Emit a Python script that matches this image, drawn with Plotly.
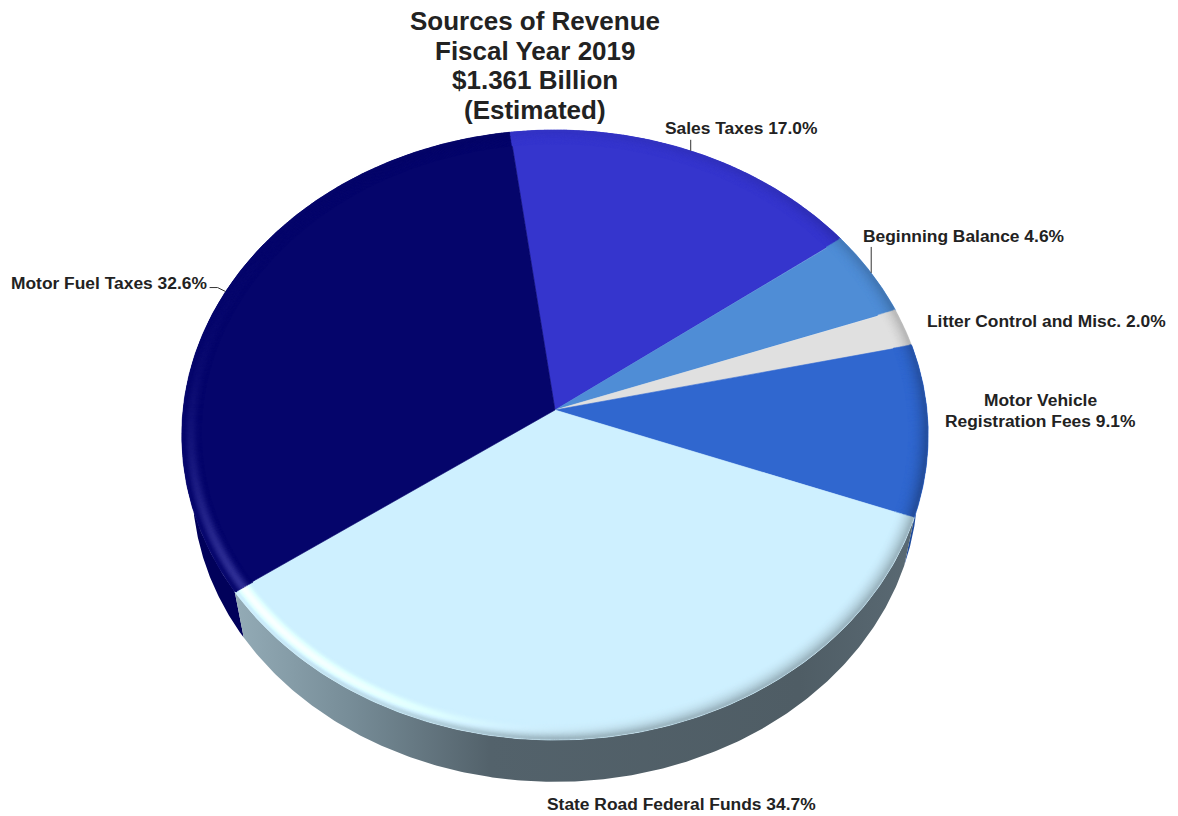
import math
import numpy as np
import plotly.graph_objects as go

# Revenue sources, clockwise from the back of the pie
categories = ["Sales Taxes", "Beginning Balance", "Litter Control and Misc.",
              "Motor Vehicle Registration Fees", "State Road Federal Funds", "Motor Fuel Taxes"]
shares = [17.0, 4.6, 2.0, 9.1, 34.7, 32.6]
title_lines = ["Sources of Revenue", "Fiscal Year 2019", "$1.361 Billion", "(Estimated)"]

slice_colors = ["#3535cd", "#4f8dd6", "#e0e0e0", "#3067cf", "#cef0ff", "#05056b"]
TEXT = "#222222"
FONT = "Liberation Sans"

# Perspective pie geometry, in pixel-sized axis units
CX, CY = 555.0, 410.0
RX, RY = 372.0, 303.0
PERSP = 0.082
START = -7.5
# Bottom plane of the disc
BOTTOM_CY, BOTTOM_SCALE = 461.0, 0.972


def top_xy(theta, r=1.0):
    t = np.radians(theta)
    X, Y = r * np.sin(t), r * np.cos(t)
    w = 1 + PERSP * Y
    return CX + RX * X / w, CY - RY * Y / w


def bottom_xy(theta):
    x, y = top_xy(theta)
    return CX + BOTTOM_SCALE * (x - CX), BOTTOM_CY + BOTTOM_SCALE * (y - CY)


def rgb(hex_color):
    return np.array([int(hex_color[i:i + 2], 16) for i in (1, 3, 5)], dtype=float)


edges = START + np.concatenate([[0], np.cumsum(shares)]) * 3.6
mids = (edges[:-1] + edges[1:]) / 2

fig = go.Figure()


def add_wall(a, b, **style):
    th = np.linspace(a, b, 240)
    xt, yt = top_xy(th)
    xb, yb = bottom_xy(th)
    fig.add_trace(go.Scatter(x=np.r_[xt, xb[::-1]], y=np.r_[yt, yb[::-1]], mode="lines",
                             fill="toself", line=dict(width=0), hoverinfo="skip", **style))


# Side walls of the disc, drawn behind the top face
add_wall(edges[5], edges[5] + 70, fillcolor="#01015a")
add_wall(edges[3], edges[4], fillcolor="#1d4a9c")
add_wall(edges[4], edges[5],
         fillgradient=dict(type="horizontal", start=236, stop=940,
                           colorscale=[[0, "#93abb6"], [0.16, "#778d98"], [0.36, "#53626b"],
                                       [0.8, "#4f5d65"], [1, "#5c6c76"]]))

# Top face slices
for a, b, c in zip(edges[:-1], edges[1:], slice_colors):
    th = np.linspace(a, b, 200)
    x, y = top_xy(th)
    fig.add_trace(go.Scatter(x=np.r_[CX, x, CX], y=np.r_[CY, y, CY], mode="lines", fill="toself",
                             fillcolor=c, line=dict(width=0.6, color=c), hoverinfo="skip"))

# Soft bevel round the rim: a highlight facing lower left, shade elsewhere
bevel_x, bevel_y, bevel_c = [], [], []
radii = np.arange(0.95, 0.9985, 0.0027)
thetas = np.arange(edges[0], edges[-1], 0.24)
slice_idx = np.clip(np.searchsorted(edges, thetas, side="right") - 1, 0, len(shares) - 1)
bases = np.array([rgb(c) for c in slice_colors])[slice_idx]
wrapped = np.mod(thetas, 360)
glow = np.exp(-((wrapped - 226) / 36.0) ** 2)
shade = np.interp(wrapped, [0, 40, 100, 180, 205, 240, 300, 360],
                  [0.05, 0.1, 0.28, 0.28, 0.12, 0.0, 0.0, 0.05])
for r in radii:
    u = (r - radii[0]) / (1 - radii[0])
    x, y = top_xy(thetas, r)
    bump = np.sin(np.pi * u ** 1.2) ** 2
    col = bases * (1 - shade * u ** 2)[:, None] + (46 * glow * bump)[:, None]
    col = np.clip(col, 0, 255).round().astype(int)
    bevel_x.append(x)
    bevel_y.append(y)
    bevel_c.extend(f"rgb({a},{b},{c})" for a, b, c in col)
fig.add_trace(go.Scatter(x=np.concatenate(bevel_x), y=np.concatenate(bevel_y), mode="markers",
                         marker=dict(size=2.6, color=bevel_c, line=dict(width=0)), hoverinfo="skip"))

# Leader lines run from the outer middle of a slice towards its label
leaders = {0: [(0, -11)], 1: [(0, -26)], 5: [(-8, -4), (-16, -4)]}
for i, steps in leaders.items():
    x0, y0 = top_xy(mids[i])
    fig.add_trace(go.Scatter(x=[x0] + [float(x0) + s[0] for s in steps],
                             y=[y0] + [float(y0) + s[1] for s in steps],
                             mode="lines", line=dict(color="#333333", width=1), hoverinfo="skip"))


def label(text, x, y, size=17.4):
    fig.add_annotation(x=x, y=y, text=f"<b>{text}</b>", showarrow=False, xanchor="center",
                       yanchor="middle", font=dict(family=FONT, size=size, color=TEXT))


for line, y in zip(title_lines, [21, 50.5, 80, 110]):
    label(line, 535, y, size=26)

pct = [f"{s:.1f}%" for s in shares]
label(f"{categories[0]} {pct[0]}", 741, 128)
label(f"{categories[1]} {pct[1]}", 963, 236)
label(f"{categories[2]} {pct[2]}", 1046, 321)
label("Motor Vehicle", 1040, 400)
label(f"Registration Fees {pct[3]}", 1040, 421)
label(f"{categories[4]} {pct[4]}", 681, 804)
label(f"{categories[5]} {pct[5]}", 109, 283)

fig.update_layout(
    width=1178, height=816, margin=dict(l=0, r=0, t=0, b=0),
    paper_bgcolor="white", plot_bgcolor="white", showlegend=False,
    xaxis=dict(range=[0, 1178], visible=False, fixedrange=True),
    yaxis=dict(range=[816, 0], visible=False, fixedrange=True),
)
fig.write_html("out.html", config={"displayModeBar": False})
